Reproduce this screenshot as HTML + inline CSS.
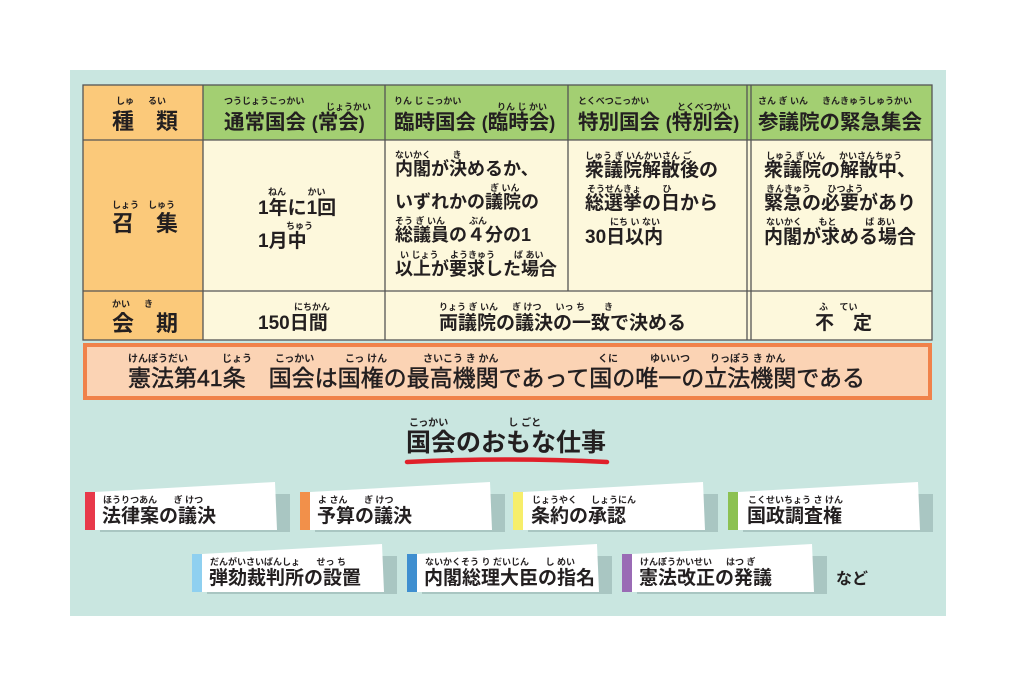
<!DOCTYPE html>
<html><head><meta charset="utf-8"><style>
body{margin:0;width:1024px;height:683px;background:#fff;position:relative;overflow:hidden;font-family:"Liberation Sans","Noto Sans CJK JP",sans-serif;color:#231f20}
.a{position:absolute;white-space:nowrap;font-weight:bold;line-height:1}
.m{font-size:19px}
.m2{font-size:18px}
.f{font-size:9px;font-weight:bold}
.h{font-size:20.5px}
.h small{font-size:18px}
</style></head><body>
<svg width="1024" height="683" style="position:absolute;left:0;top:0">
<rect x="70" y="70" width="876" height="546" fill="#c9e6e0"/>
<rect x="83" y="85" width="849" height="255" fill="#fdf8dc"/>
<rect x="83" y="85" width="120" height="255" fill="#fbc97a"/>
<rect x="203" y="85" width="729" height="55" fill="#a3cf72"/>
<g stroke="#555" stroke-width="1.3" fill="none">
<rect x="83" y="85" width="849" height="255"/>
<line x1="83" y1="140" x2="932" y2="140"/>
<line x1="83" y1="291" x2="932" y2="291"/>
<line x1="203" y1="85" x2="203" y2="340"/>
<line x1="385" y1="85" x2="385" y2="340"/>
<line x1="568" y1="85" x2="568" y2="291"/>
<line x1="747" y1="85" x2="747" y2="340"/>
<line x1="751" y1="85" x2="751" y2="340"/>
</g>
<rect x="85" y="345" width="845" height="53" fill="#fbd3b4" stroke="#f0824a" stroke-width="4"/>
<path d="M407 462 Q505 457 607 462" stroke="#e0202a" stroke-width="4.5" fill="none" stroke-linecap="round"/>
<g>
<rect x="100" y="494" width="190" height="38" fill="#a9c6c2"/><polygon points="95,492 275,482 277,530 95,530" fill="#fff"/><rect x="85" y="492" width="10" height="38" fill="#e8394a"/>
<rect x="315" y="494" width="190" height="38" fill="#a9c6c2"/><polygon points="310,492 490,482 492,530 310,530" fill="#fff"/><rect x="300" y="492" width="10" height="38" fill="#f2904a"/>
<rect x="528" y="494" width="190" height="38" fill="#a9c6c2"/><polygon points="523,492 703,482 705,530 523,530" fill="#fff"/><rect x="513" y="492" width="10" height="38" fill="#f7ee6a"/>
<rect x="743" y="494" width="190" height="38" fill="#a9c6c2"/><polygon points="738,492 918,482 920,530 738,530" fill="#fff"/><rect x="728" y="492" width="10" height="38" fill="#8cc152"/>
<rect x="207" y="556" width="190" height="38" fill="#a9c6c2"/><polygon points="202,554 382,544 384,592 202,592" fill="#fff"/><rect x="192" y="554" width="10" height="38" fill="#8fd0f0"/>
<rect x="422" y="556" width="190" height="38" fill="#a9c6c2"/><polygon points="417,554 597,544 599,592 417,592" fill="#fff"/><rect x="407" y="554" width="10" height="38" fill="#3f8fd0"/>
<rect x="637" y="556" width="190" height="38" fill="#a9c6c2"/><polygon points="632,554 812,544 814,592 632,592" fill="#fff"/><rect x="622" y="554" width="10" height="38" fill="#9a6bb5"/>
</g>
</svg>

<div class="a f" style="left:116px;top:97px">しゅ　&nbsp;&nbsp;るい</div>
<div class="a" style="left:112px;top:111px;font-size:22px">種　類</div>
<div class="a f" style="left:224px;top:97px">つうじょうこっかい</div>
<div class="a f" style="left:326px;top:103px">じょうかい</div>
<div class="a h" style="left:224px;top:113px">通常国会 <small>(</small>常会<small>)</small></div>
<div class="a f" style="left:394px;top:97px">りん じ こっかい</div>
<div class="a f" style="left:497px;top:103px">りん じ かい</div>
<div class="a h" style="left:394px;top:113px">臨時国会 <small>(</small>臨時会<small>)</small></div>
<div class="a f" style="left:578px;top:97px">とくべつこっかい</div>
<div class="a f" style="left:677px;top:103px">とくべつかい</div>
<div class="a h" style="left:578px;top:113px">特別国会 <small>(</small>特別会<small>)</small></div>
<div class="a f" style="left:758px;top:97px">さん ぎ いん　&nbsp;&nbsp;きんきゅうしゅうかい</div>
<div class="a h" style="left:758px;top:113px">参議院の緊急集会</div>

<div class="a f" style="left:112px;top:201px">しょう　しゅう</div>
<div class="a" style="left:112px;top:213px;font-size:22px">召　集</div>
<div class="a f" style="left:268px;top:188px">ねん　&nbsp;&nbsp;&nbsp;&nbsp;&nbsp;かい</div>
<div class="a m" style="left:258px;top:199px">1年に1回</div>
<div class="a f" style="left:286px;top:222px">ちゅう</div>
<div class="a m" style="left:258px;top:232px">1月中</div>

<div class="a f" style="left:395px;top:151px">ないかく　&nbsp;&nbsp;&nbsp;&nbsp;&nbsp;き</div>
<div class="a m2" style="left:395px;top:160px">内閣が決めるか、</div>
<div class="a f" style="left:490px;top:184px">ぎ いん</div>
<div class="a m2" style="left:395px;top:193px">いずれかの議院の</div>
<div class="a f" style="left:395px;top:217px">そう ぎ いん　&nbsp;&nbsp;&nbsp;&nbsp;&nbsp;&nbsp;ぶん</div>
<div class="a m2" style="left:395px;top:226px">総議員の４分の1</div>
<div class="a f" style="left:400px;top:251px">い じょう　&nbsp;ようきゅう　&nbsp;&nbsp;&nbsp;&nbsp;ば あい</div>
<div class="a m2" style="left:395px;top:260px">以上が要求した場合</div>

<div class="a f" style="left:585px;top:152px">しゅう ぎ いんかいさん ご</div>
<div class="a m" style="left:585px;top:161px">衆議院解散後の</div>
<div class="a f" style="left:587px;top:185px">そうせんきょ　&nbsp;&nbsp;&nbsp;&nbsp;&nbsp;ひ</div>
<div class="a m" style="left:585px;top:194px">総選挙の日から</div>
<div class="a f" style="left:610px;top:218px">にち い ない</div>
<div class="a m" style="left:585px;top:228px">30日以内</div>

<div class="a f" style="left:766px;top:152px">しゅう ぎ いん　&nbsp;&nbsp;かいさんちゅう</div>
<div class="a m" style="left:764px;top:161px">衆議院の解散中、</div>
<div class="a f" style="left:766px;top:185px">きんきゅう　&nbsp;&nbsp;&nbsp;ひつよう</div>
<div class="a m" style="left:764px;top:194px">緊急の必要があり</div>
<div class="a f" style="left:766px;top:218px">ないかく　&nbsp;&nbsp;&nbsp;もと　&nbsp;&nbsp;&nbsp;&nbsp;&nbsp;&nbsp;&nbsp;&nbsp;ば あい</div>
<div class="a m" style="left:764px;top:228px">内閣が求める場合</div>

<div class="a f" style="left:112px;top:300px">かい　&nbsp;&nbsp;き</div>
<div class="a" style="left:112px;top:313px;font-size:22px">会　期</div>
<div class="a f" style="left:294px;top:303px">にちかん</div>
<div class="a m" style="left:258px;top:314px">150日間</div>
<div class="a f" style="left:439px;top:303px">りょう ぎ いん　&nbsp;&nbsp;ぎ けつ　&nbsp;&nbsp;いっ ち　&nbsp;&nbsp;&nbsp;&nbsp;き</div>
<div class="a m" style="left:439px;top:314px">両議院の議決の一致で決める</div>
<div class="a f" style="left:819px;top:303px">ふ　&nbsp;てい</div>
<div class="a m" style="left:815px;top:314px">不　定</div>

<div class="a f" style="left:128px;top:355px;font-size:10px">けんぽうだい</div>
<div class="a f" style="left:222px;top:355px;font-size:10px">じょう</div>
<div class="a f" style="left:275px;top:355px;font-size:10px">こっかい</div>
<div class="a f" style="left:345px;top:355px;font-size:10px">こっ けん</div>
<div class="a f" style="left:423px;top:355px;font-size:10px">さいこう き かん</div>
<div class="a f" style="left:598px;top:355px;font-size:10px">くに</div>
<div class="a f" style="left:650px;top:355px;font-size:10px">ゆいいつ</div>
<div class="a f" style="left:710px;top:355px;font-size:10px">りっぽう き かん</div>
<div class="a" style="left:128px;top:367px;font-size:23px;font-weight:normal;-webkit-text-stroke:0.5px #231f20">憲法第41条　国会は国権の最高機関であって国の唯一の立法機関である</div>

<div class="a f" style="left:409px;top:419px;font-size:10px">こっかい　&nbsp;&nbsp;&nbsp;&nbsp;&nbsp;&nbsp;&nbsp;&nbsp;&nbsp;&nbsp;&nbsp;&nbsp;&nbsp;&nbsp;&nbsp;&nbsp;&nbsp;&nbsp;し ごと</div>
<div class="a" style="left:406px;top:431px;font-size:25px">国会のおもな仕事</div>

<div class="a f" style="left:103px;top:496px">ほうりつあん　&nbsp;&nbsp;&nbsp;ぎ けつ</div>
<div class="a m" style="left:102px;top:507px">法律案の議決</div>
<div class="a f" style="left:318px;top:496px">よ さん　&nbsp;&nbsp;&nbsp;ぎ けつ</div>
<div class="a m" style="left:317px;top:507px">予算の議決</div>
<div class="a f" style="left:532px;top:496px">じょうやく　&nbsp;&nbsp;しょうにん</div>
<div class="a m" style="left:531px;top:507px">条約の承認</div>
<div class="a f" style="left:748px;top:496px">こくせいちょう さ けん</div>
<div class="a m" style="left:747px;top:507px">国政調査権</div>
<div class="a f" style="left:210px;top:558px">だんがいさいばんしょ　&nbsp;&nbsp;&nbsp;せっ ち</div>
<div class="a m" style="left:209px;top:569px">弾劾裁判所の設置</div>
<div class="a f" style="left:425px;top:558px">ないかくそう り だいじん　&nbsp;&nbsp;&nbsp;し めい</div>
<div class="a m" style="left:424px;top:569px">内閣総理大臣の指名</div>
<div class="a f" style="left:640px;top:558px">けんぽうかいせい　&nbsp;&nbsp;はつ ぎ</div>
<div class="a m" style="left:639px;top:569px">憲法改正の発議</div>
<div class="a" style="left:836px;top:572px;font-size:16px">など</div>
</body></html>
